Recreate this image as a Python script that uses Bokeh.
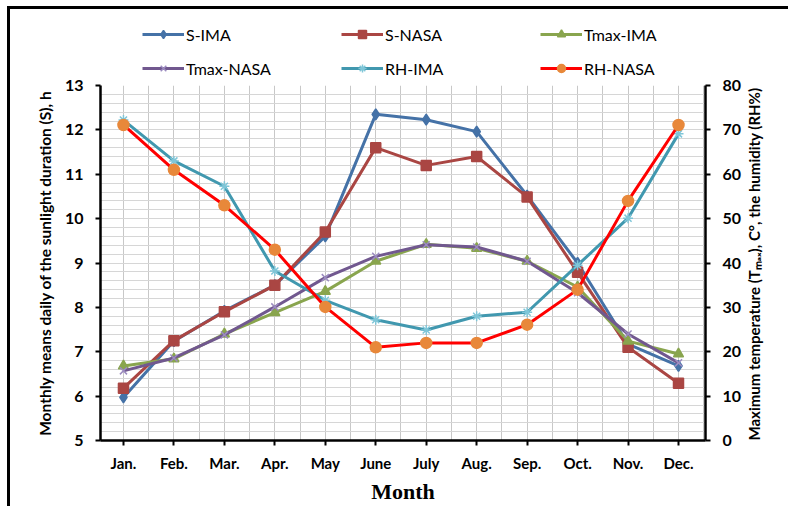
import math
from bokeh.plotting import figure
from bokeh.layouts import column
from bokeh.models import (Range1d, LinearAxis, FixedTicker, SingleIntervalTicker,
                          Legend, LegendItem)
from bokeh.embed import file_html
from bokeh.resources import INLINE

months = [1, 2, 3, 4, 5, 6, 7, 8, 9, 10, 11, 12]
month_labels = ["Jan.", "Feb.", "Mar.", "Apr.", "May", "June", "July",
                "Aug.", "Sep.", "Oct.", "Nov.", "Dec."]

s_ima = [5.97, 7.24, 7.92, 8.50, 9.60, 12.35, 12.23, 11.96, 10.52, 9.00, 7.17, 6.68]
s_nasa = [6.18, 7.25, 7.90, 8.50, 9.70, 11.60, 11.20, 11.40, 10.49, 8.79, 7.10, 6.29]
tmax_ima = [16.8, 18.4, 24.0, 28.8, 33.6, 40.4, 44.2, 43.3, 40.4, 34.6, 22.4, 19.5]
tmax_nasa = [15.7, 18.6, 23.8, 30.1, 36.7, 41.5, 44.1, 43.6, 40.4, 33.3, 24.0, 17.5]
rh_ima = [72.2, 63.0, 57.3, 38.2, 31.6, 27.2, 24.9, 28.0, 28.9, 39.5, 50.1, 69.1]
rh_nasa = [71.1, 61.0, 53.0, 43.0, 30.1, 21.0, 22.0, 22.0, 26.1, 34.0, 54.0, 71.1]

FONT = "Lato"

p = figure(width=778, height=430, output_backend="svg", toolbar_location=None,
           x_range=Range1d(0.545, 12.535), y_range=Range1d(5, 13),
           min_border_left=90, min_border_right=83, min_border_top=9,
           min_border_bottom=56)
p.outline_line_color = None
p.extra_y_ranges = {"rh": Range1d(0, 80)}

# grids
p.xgrid.ticker = FixedTicker(ticks=[i * 0.5 for i in range(1, 26)])
p.xgrid.grid_line_color = "#c8c8c8"
p.xgrid.grid_line_width = 1
p.ygrid.ticker = FixedTicker(ticks=[5 + i * 0.2 for i in range(41)])
p.ygrid.grid_line_color = "#d6d6d6"
p.ygrid.grid_line_width = 1

# x axis
xa = p.xaxis[0]
xa.ticker = FixedTicker(ticks=months)
xa.major_label_overrides = {m: lab for m, lab in zip(months, month_labels)}
xa.axis_label = "Month"
xa.axis_label_text_font = "Liberation Serif"
xa.axis_label_text_font_style = "bold"
xa.axis_label_text_font_size = "22px"
xa.axis_label_standoff = 4
xa.major_label_text_font = FONT
xa.major_label_text_font_style = "bold"
xa.major_label_text_font_size = "15px"
xa.major_label_standoff = 8

# left axis
ya = p.yaxis[0]
ya.ticker = SingleIntervalTicker(interval=1)
ya.axis_label = "Monthly means daily of the sunlight duration (S), h"
ya.axis_label_text_font = FONT
ya.axis_label_text_font_style = "bold"
ya.axis_label_text_font_size = "15.5px"
ya.axis_label_standoff = 8
ya.major_label_text_font = FONT
ya.major_label_text_font_style = "bold"
ya.major_label_text_font_size = "16px"
ya.major_label_standoff = 12

# right axis
ra = LinearAxis(y_range_name="rh", ticker=SingleIntervalTicker(interval=10))
ra.axis_label = "Maximum temperature (Tₘₐₓ), C°, the humidity (RH%)"
ra.axis_label_orientation = math.pi / 2
if "axis_label_align" in ra.properties():
    for cand in ("start", "left", "bottom"):
        try:
            ra.axis_label_align = cand
            break
        except Exception:
            pass
ra.axis_label_text_font = FONT
ra.axis_label_text_font_style = "bold"
ra.axis_label_text_font_size = "15px"
ra.axis_label_standoff = 10
ra.major_label_text_font = FONT
ra.major_label_text_font_style = "bold"
ra.major_label_text_font_size = "16px"
ra.major_label_standoff = 12
p.add_layout(ra, "right")

for ax in (xa, ya, ra):
    ax.axis_line_color = "black"
    ax.axis_line_width = 2.5
    ax.major_tick_line_color = "black"
    ax.major_tick_line_width = 2
    ax.major_tick_out = 5
    ax.major_tick_in = 0
    ax.minor_tick_line_color = None
    ax.major_label_text_color = "black"
    ax.axis_label_text_color = "black"

series = [
    ("S-IMA", s_ima, None, "#4572A7", "#4572A7", "diamond", 11),
    ("S-NASA", s_nasa, None, "#AA4643", "#AA4643", "square", 10),
    ("Tmax-IMA", tmax_ima, "rh", "#89A54E", "#89A54E", "triangle", 10),
    ("Tmax-NASA", tmax_nasa, "rh", "#71588F", "#9C8CC0", "x", 10),
    ("RH-IMA", rh_ima, "rh", "#4198AF", "#7FC6D8", "asterisk", 10),
    ("RH-NASA", rh_nasa, "rh", "#FF0000", "#E8883A", "circle", 11),
]

# legend strip above the chart (its own figure; series drawn out of view)
leg = figure(width=778, height=67, output_backend="svg", toolbar_location=None,
             x_range=Range1d(100, 200), y_range=Range1d(100, 200),
             x_axis_location=None, y_axis_location=None, min_border=0)
leg.grid.visible = False
leg.outline_line_color = None

items = {}
for name, vals, rng, lc, mc, mk, sz in series:
    kw = {"y_range_name": rng} if rng else {}
    p.line(months, vals, line_color=lc, line_width=3, **kw)
    p.scatter(months, vals, marker=mk, size=sz, fill_color=mc,
              line_color=mc, line_width=1.5, **kw)
    ln = leg.line(months, vals, line_color=lc, line_width=3)
    sc = leg.scatter(months, vals, marker=mk, size=sz, fill_color=mc,
                     line_color=mc, line_width=1.5)
    items[name] = LegendItem(label=name, renderers=[ln, sc])

legend_columns = [["S-IMA", "Tmax-NASA"], ["S-NASA", "RH-IMA"], ["Tmax-IMA", "RH-NASA"]]
for i, names in enumerate(legend_columns):
    lg = Legend(items=[items[n] for n in names], location=(42 + 199 * i, -2),
                glyph_width=42, glyph_height=20, label_standoff=2,
                label_height=20, spacing=14, padding=0, margin=0,
                label_text_font=FONT, label_text_font_size="16px",
                label_text_color="black",
                border_line_alpha=0, background_fill_alpha=0)
    leg.add_layout(lg, "center")

layout = column(leg, p, spacing=0,
                styles={"margin-left": "7px", "margin-top": "6px",
                        "border-left": "3px solid black",
                        "border-top": "3px solid black"})

open("out.html", "w").write(file_html(layout, INLINE))
